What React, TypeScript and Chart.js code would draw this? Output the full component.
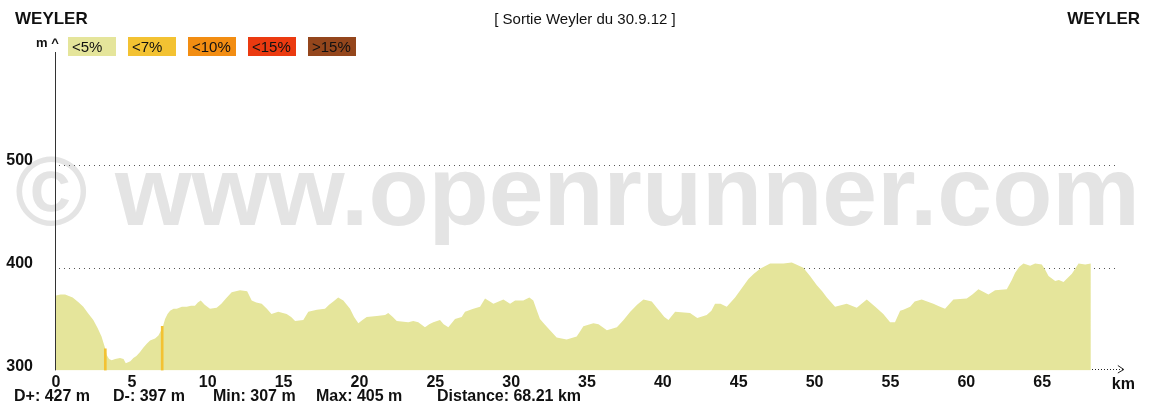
import React, { useEffect, useRef } from "react";
import { Chart, registerables } from "chart.js";

Chart.register(...registerables);

// ---- data ----
const distanceKm = [
  0, 0.3, 0.6, 1.1, 1.5, 1.8, 2.1, 2.46, 2.75, 3.0, 3.23, 3.34, 3.5, 3.67, 3.9, 4.22, 4.45, 4.6, 4.9, 5.1,
  5.3, 5.54, 5.75, 5.98, 6.2, 6.53, 6.75, 6.9, 7.05, 7.19, 7.35, 7.52, 7.75, 7.96, 8.3, 8.62, 8.9, 9.16, 9.35, 9.54,
  9.8, 10.15, 10.59, 10.9, 11.2, 11.58, 12.13, 12.6, 12.9, 13.2, 13.56, 13.9, 14.2, 14.65, 15.2, 15.5, 15.76, 16.3, 16.63, 17.2,
  17.73, 18.0, 18.28, 18.6, 18.94, 19.38, 19.65, 19.93, 20.2, 20.48, 21.14, 21.69, 21.9, 22.2, 22.46, 23.22, 23.55, 23.88, 24.32, 24.6,
  24.87, 25.31, 25.55, 25.86, 26.3, 26.74, 26.96, 27.51, 27.95, 28.28, 28.6, 28.83, 29.49, 29.93, 30.26, 30.8, 31.2, 31.46, 31.7, 31.9,
  32.2, 32.56, 33.0, 33.66, 34.32, 34.55, 34.76, 35.42, 35.76, 36.31, 36.97, 37.41, 37.85, 38.3, 38.72, 39.27, 39.6, 39.82, 40.1, 40.37,
  40.81, 41.79, 42.27, 42.89, 43.2, 43.44, 43.8, 44.21, 44.76, 45.2, 45.64, 46.0, 46.41, 47.07, 47.95, 48.5, 49.26, 49.7, 50.15, 50.5,
  50.81, 51.35, 52.12, 52.78, 53.44, 54.0, 54.53, 54.98, 55.3, 55.64, 55.85, 56.3, 56.6, 57.06, 57.83, 58.27, 58.6, 59.15, 60.03, 60.4,
  60.8, 61.46, 61.9, 62.67, 63.0, 63.22, 63.5, 63.77, 64.21, 64.54, 64.98, 65.2, 65.42, 65.86, 66.1, 66.41, 66.96, 67.4, 67.84, 68.21,
];
const elevationM = [
  373, 374, 374, 371, 366, 362, 356, 349, 341, 333, 322, 315, 311, 310, 311, 312, 311, 307, 309, 312,
  314, 318, 322, 326, 329, 331, 334, 338, 343, 350, 355, 358, 360, 360, 362, 362, 363, 363, 366, 368,
  364, 360, 361, 365, 370, 376, 378, 377, 368, 366, 365, 360, 355, 357, 355, 352, 348, 349, 357, 359,
  360, 364, 367, 371, 368, 360, 352, 346, 349, 352, 353, 354, 356, 352, 348, 347, 348, 347, 342, 345,
  347, 349, 345, 342, 350, 352, 357, 360, 362, 370, 367, 365, 369, 365, 368, 368, 371, 368, 358, 350,
  345, 339, 332, 330, 333, 338, 343, 346, 345, 339, 342, 349, 357, 364, 369, 367, 361, 357, 352, 349,
  357, 356, 351, 354, 358, 365, 365, 362, 371, 380, 389, 394, 399, 404, 404, 405, 400, 392, 383, 377,
  371, 362, 365, 361, 369, 362, 355, 347, 347, 358, 359, 362, 367, 369, 365, 362, 360, 369, 370, 374,
  379, 374, 378, 379, 388, 395, 401, 404, 402, 404, 403, 398, 392, 387, 388, 386, 394, 404, 403, 404,
];
// short steeper stretches (<7%)
const steepKm = [3.25, 7.0];
const steepElevM = [321, 343];

const xTickValues = [0, 5, 10, 15, 20, 25, 30, 35, 40, 45, 50, 55, 60, 65];
const yTickValues = [300, 400, 500];
const gridValues = [400, 500];

const legendLabels = ["<5%", "<7%", "<10%", "<15%", ">15%"];
const legendColors = ["#e5e59b", "#f3c232", "#f28d12", "#eb3a10", "#94461c"];
const statsLabels = ["D+: 427 m", "D-: 397 m", "Min: 307 m", "Max: 405 m", "Distance: 68.21 km"];
const titleText = "[ Sortie Weyler du 30.9.12 ]";
const startName = "WEYLER";
const endName = "WEYLER";
const watermarkText = "© www.openrunner.com";
const yUnit = "m ^";
const xUnit = "km";

const FONT = '"Liberation Sans", Arial, Helvetica, sans-serif';

const decorPlugin = {
  id: "decor",
  beforeDraw(chart: any) {
    const ctx = chart.ctx;
    ctx.save();
    ctx.fillStyle = "#ffffff";
    ctx.fillRect(0, 0, chart.width, chart.height);
    // watermark
    ctx.fillStyle = "#e4e4e4";
    let size = 98;
    ctx.font = `bold ${size}px ${FONT}`;
    const w = ctx.measureText(watermarkText).width;
    size = (size * 1125) / w;
    ctx.font = `bold ${size}px ${FONT}`;
    ctx.textBaseline = "alphabetic";
    ctx.textAlign = "left";
    ctx.fillText(watermarkText, 15, 225);
    ctx.restore();
  },
  beforeDatasetsDraw(chart: any) {
    const ctx = chart.ctx;
    const y = chart.scales.y;
    const area = chart.chartArea;
    ctx.save();
    ctx.fillStyle = "#555";
    for (const v of gridValues) {
      const py = Math.round(y.getPixelForValue(v));
      for (let px = area.left + 3; px < area.right; px += 5) {
        ctx.fillRect(px, py, 1, 1);
      }
    }
    ctx.restore();
  },
  afterDatasetsDraw(chart: any) {
    const ctx = chart.ctx;
    const area = chart.chartArea;
    const xs = chart.scales.x;
    ctx.save();
    // y axis line
    ctx.strokeStyle = "#333";
    ctx.lineWidth = 1;
    ctx.beginPath();
    ctx.moveTo(Math.round(area.left) - 0.5, area.top);
    ctx.lineTo(Math.round(area.left) - 0.5, area.bottom);
    ctx.stroke();

    // dotted x arrow after the profile end
    const endX = xs.getPixelForValue(distanceKm[distanceKm.length - 1]);
    const ay = Math.round(area.bottom) - 1;
    ctx.fillStyle = "#222";
    for (let px = Math.round(endX) + 1; px < endX + 32; px += 3) {
      ctx.fillRect(px, ay, 1, 1);
    }
    ctx.strokeStyle = "#222";
    ctx.beginPath();
    ctx.moveTo(endX + 27, ay - 3.5);
    ctx.lineTo(endX + 33, ay + 0.5);
    ctx.lineTo(endX + 27, ay + 4);
    ctx.stroke();

    ctx.fillStyle = "#111";
    ctx.textBaseline = "alphabetic";
    ctx.font = `bold 16px ${FONT}`;
    ctx.textAlign = "left";
    ctx.fillText(xUnit, endX + 21, 389);

    // top texts
    ctx.font = `bold 17px ${FONT}`;
    ctx.textAlign = "left";
    ctx.fillText(startName, 15, 24);
    ctx.textAlign = "right";
    ctx.fillText(endName, 1140, 24);
    ctx.font = `15px ${FONT}`;
    ctx.textAlign = "center";
    ctx.fillText(titleText, 585, 24);

    // unit label
    ctx.font = `bold 13px ${FONT}`;
    ctx.textAlign = "left";
    ctx.fillText(yUnit, 36, 47);

    // legend
    legendLabels.forEach((lab, i) => {
      const bx = 68 + i * 60;
      ctx.fillStyle = legendColors[i];
      ctx.fillRect(bx, 37, 48, 19);
      ctx.fillStyle = "#111";
      ctx.font = `15px ${FONT}`;
      ctx.textAlign = "left";
      ctx.fillText(lab, bx + 4, 52);
    });

    // stats
    const statX = [14, 113, 213, 316, 437];
    ctx.font = `bold 16px ${FONT}`;
    ctx.textAlign = "left";
    statsLabels.forEach((s, i) => ctx.fillText(s, statX[i], 401));
    ctx.restore();
  },
};

export default function App() {
  const ref = useRef<HTMLCanvasElement | null>(null);
  useEffect(() => {
    if (!ref.current) return;
    const chart = new Chart(ref.current, {
      type: "line",
      data: {
        datasets: [
          {
            type: "bar",
            data: steepKm.map((x, i) => ({ x, y: steepElevM[i] })),
            backgroundColor: legendColors[1],
            barThickness: 2,
            base: 300,
            grouped: false,
            order: 1,
          } as any,
          {
            type: "line",
            data: distanceKm.map((x, i) => ({ x, y: elevationM[i] })),
            fill: "start",
            backgroundColor: legendColors[0],
            borderWidth: 0,
            borderColor: "rgba(0,0,0,0)",
            pointRadius: 0,
            tension: 0,
            order: 2,
          } as any,
        ],
      },
      options: {
        responsive: false,
        animation: false,
        devicePixelRatio: 1,
        layout: { padding: { top: 52, right: 37, left: 0, bottom: 0 } },
        plugins: { legend: { display: false }, tooltip: { enabled: false } },
        scales: {
          x: {
            type: "linear",
            min: 0,
            max: 70,
            offset: false,
            grid: { display: false, drawTicks: false, tickLength: 0 },
            border: { display: false },
            afterBuildTicks: (s: any) => {
              s.ticks = xTickValues.map((v) => ({ value: v }));
            },
            afterFit: (s: any) => {
              s.height = 29;
            },
            ticks: {
              autoSkip: false,
              maxRotation: 0,
              padding: 3,
              color: "#111",
              font: { family: FONT, size: 16, weight: "bold" },
            },
          },
          y: {
            type: "linear",
            min: 300,
            max: 610,
            grid: { display: false, drawTicks: false, tickLength: 0 },
            border: { display: false },
            afterBuildTicks: (s: any) => {
              s.ticks = yTickValues.map((v) => ({ value: v }));
            },
            afterFit: (s: any) => {
              s.width = 56;
            },
            ticks: {
              padding: 23,
              labelOffset: -4,
              color: "#111",
              font: { family: FONT, size: 16, weight: "bold" },
            },
          },
        },
      } as any,
      plugins: [decorPlugin],
    });
    return () => chart.destroy();
  }, []);
  return (
    <div style={{ position: "absolute", left: 0, top: 0, width: 1155, height: 403, background: "#fff" }}>
      <canvas ref={ref} width={1155} height={403} />
    </div>
  );
}
